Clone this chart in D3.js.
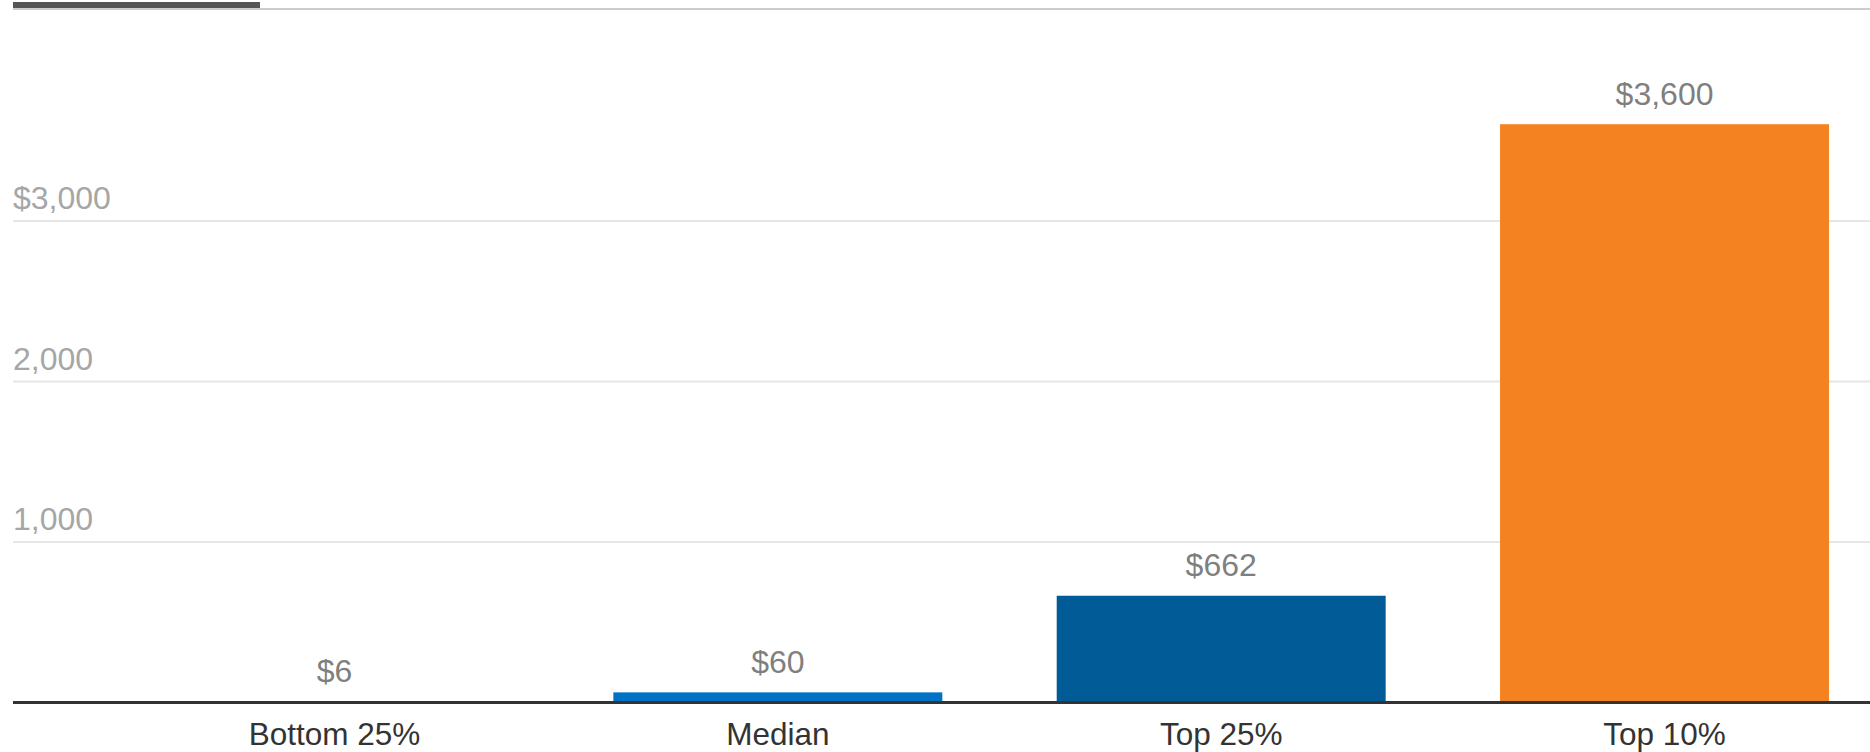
<!DOCTYPE html>
<html>
<head>
<meta charset="utf-8">
<script src="https://cdn.jsdelivr.net/npm/d3@7"></script>
<style>
  html, body { margin: 0; padding: 0; background: #fff; }
  svg { display: block; font-family: "Liberation Sans", Arial, Helvetica, sans-serif; }
</style>
</head>
<body>
<div id="chart"></div>
<script>
const categories = ["Bottom 25%", "Median", "Top 25%", "Top 10%"];
const values = [6, 60, 662, 3600];
const valueLabels = ["$6", "$60", "$662", "$3,600"];
const barColors = ["#7fb3dc", "#0073c6", "#005b97", "#f58220"];
const yTicks = [1000, 2000, 3000];
const yTickLabels = ["1,000", "2,000", "$3,000"];

const w = 1870;
const h = 752;
const left = 13;
const base = 702;

const svg = d3.select("#chart")
  .append("svg")
  .attr("width", w)
  .attr("height", h);

// top tab strip
svg.append("rect")
  .attr("x", left).attr("y", 8)
  .attr("width", w - left).attr("height", 2)
  .attr("fill", "#cccccc");
svg.append("rect")
  .attr("x", left).attr("y", 2)
  .attr("width", 247).attr("height", 6)
  .attr("fill", "#555555");

const xScale = d3.scaleBand()
  .domain(categories)
  .range([left, w])
  .paddingInner(0.258)
  .paddingOuter(0.2233)
  .align(0.793);

const yScale = d3.scaleLinear()
  .domain([0, 4000])
  .range([base, 60]);

// gridlines + y labels
const yAxis = d3.axisRight(yScale)
  .tickValues(yTicks)
  .tickSize(w - left)
  .tickFormat((d, i) => yTickLabels[i]);

const gy = svg.append("g")
  .attr("transform", "translate(" + left + ",0)")
  .call(yAxis);
gy.select(".domain").remove();
gy.selectAll(".tick line")
  .attr("stroke", "#e6e6e6")
  .attr("stroke-width", 2);
gy.selectAll(".tick text")
  .attr("x", 0)
  .attr("dy", -12)
  .attr("text-anchor", "start")
  .attr("fill", "#a6a6a6")
  .style("font-size", "32px");

// bars
svg.selectAll("rect.bar")
  .data(values)
  .enter()
  .append("rect")
    .attr("class", "bar")
    .attr("x", (d, i) => xScale(categories[i]))
    .attr("y", d => yScale(d))
    .attr("width", xScale.bandwidth())
    .attr("height", d => base - yScale(d))
    .attr("fill", (d, i) => barColors[i]);

// value labels
svg.selectAll("text.val")
  .data(values)
  .enter()
  .append("text")
    .attr("class", "val")
    .attr("x", (d, i) => xScale(categories[i]) + xScale.bandwidth() / 2)
    .attr("y", d => yScale(d) - 19.5)
    .attr("text-anchor", "middle")
    .attr("fill", "#7f7f7f")
    .style("font-size", "32px")
    .text((d, i) => valueLabels[i]);

// x axis
const xAxis = d3.axisBottom(xScale).tickSize(0).tickPadding(0);
const gx = svg.append("g")
  .attr("transform", "translate(0," + base + ")")
  .call(xAxis);
gx.select(".domain").remove();
gx.append("line")
  .attr("x1", left).attr("x2", w)
  .attr("y1", 0.6).attr("y2", 0.6)
  .attr("stroke", "#333333")
  .attr("stroke-width", 3);
gx.selectAll(".tick text")
  .attr("y", 43)
  .attr("dy", 0)
  .attr("fill", "#333333")
  .style("font-size", "31.5px");
</script>
</body>
</html>
